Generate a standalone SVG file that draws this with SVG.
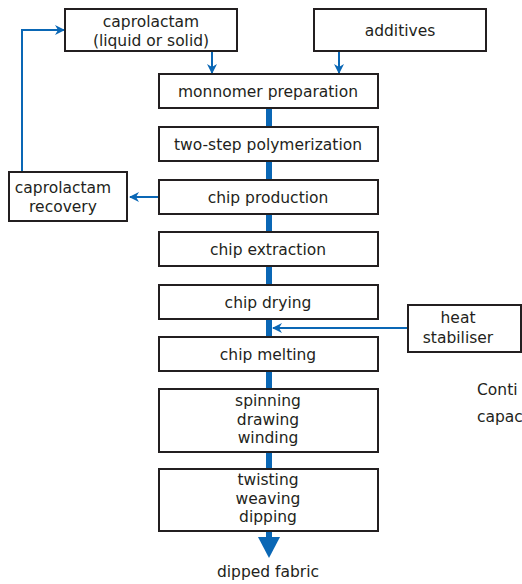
<svg xmlns="http://www.w3.org/2000/svg" width="522" height="584" viewBox="0 0 522 584">
<style>
.box{fill:#fff;stroke:#231f20;stroke-width:2}
text{font-family:"DejaVu Sans","Liberation Sans",sans-serif;font-size:15.5px;fill:#231f20;text-anchor:middle}
.thin{stroke:#0a67b5;stroke-width:2;fill:none}
.thick{stroke:#0a67b5;stroke-width:6;fill:none}
</style>
<defs>
<marker id="ah" markerWidth="10" markerHeight="10" refX="9" refY="5" orient="auto" markerUnits="userSpaceOnUse">
<path d="M0,0 L10,5 L0,10 L3,5 Z" fill="#0a67b5"/>
</marker>
</defs>
<rect width="522" height="584" fill="#fff"/>
<g id="connectors">
<line class="thick" x1="269" y1="108" x2="269" y2="537"/>
<polygon points="258,537 280,537 269,558" fill="#0a67b5"/>
<line class="thin" x1="212" y1="51" x2="212" y2="73" marker-end="url(#ah)"/>
<line class="thin" x1="339" y1="51" x2="339" y2="73" marker-end="url(#ah)"/>
<polyline class="thin" points="22,172 22,30 64,30" marker-end="url(#ah)"/>
<line class="thin" x1="159" y1="197" x2="130" y2="197" marker-end="url(#ah)"/>
<line class="thin" x1="408" y1="328" x2="273" y2="328" marker-end="url(#ah)"/>
</g>
<g id="caprolactam"><rect class="box" x="65" y="9" width="172" height="42"/><text x="151" y="27">caprolactam<tspan x="151" dy="18.5">(liquid or solid)</tspan></text></g>
<g id="additives"><rect class="box" x="314" y="9" width="172" height="42"/><text x="400" y="36">additives</text></g>
<g id="monomer"><rect class="box" x="159" y="74" width="219" height="34"/><text x="268" y="97">monnomer preparation</text></g>
<g id="polymerization"><rect class="box" x="159" y="127" width="219" height="34"/><text x="268" y="150">two-step polymerization</text></g>
<g id="chipproduction"><rect class="box" x="159" y="180" width="219" height="34"/><text x="268" y="203">chip production</text></g>
<g id="recovery"><rect class="box" x="9" y="172" width="118" height="49"/><text x="63" y="193">caprolactam<tspan x="63" dy="19">recovery</tspan></text></g>
<g id="extraction"><rect class="box" x="159" y="232" width="219" height="34"/><text x="268" y="255">chip extraction</text></g>
<g id="drying"><rect class="box" x="159" y="285" width="219" height="34"/><text x="268" y="308">chip drying</text></g>
<g id="stabiliser"><rect class="box" x="408" y="305" width="113" height="47"/><text x="458" y="323">heat<tspan x="458" dy="20">stabiliser</tspan></text></g>
<g id="melting"><rect class="box" x="159" y="337" width="219" height="34"/><text x="268" y="360">chip melting</text></g>
<g id="spinning"><rect class="box" x="159" y="389" width="219" height="63"/><text x="268" y="406">spinning<tspan x="268" dy="18.5">drawing</tspan><tspan x="268" dy="18.5">winding</tspan></text></g>
<g id="twisting"><rect class="box" x="159" y="469" width="219" height="62"/><text x="268" y="485">twisting<tspan x="268" dy="18.5">weaving</tspan><tspan x="268" dy="18.5">dipping</tspan></text></g>
<g id="fabric"><text x="268" y="577">dipped fabric</text></g>
<g id="caption"><text x="477" y="395" style="text-anchor:start">Conti</text><text x="477" y="422" style="text-anchor:start">capac</text></g>
</svg>
